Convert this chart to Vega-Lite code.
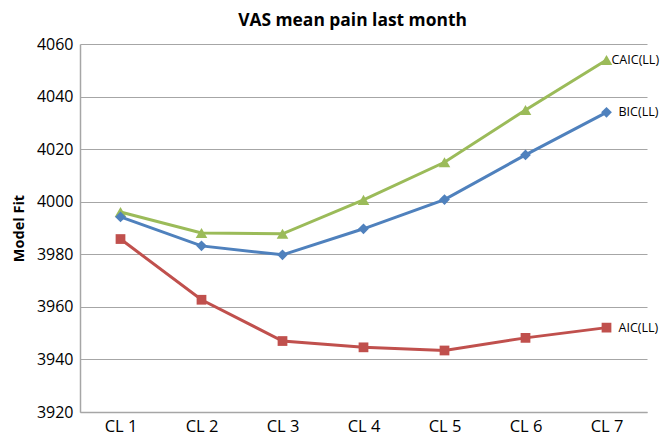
{
  "$schema": "https://vega.github.io/schema/vega-lite/v6.json",
  "width": 567,
  "height": 368,
  "autosize": {"type": "none"},
  "padding": {"left": 80, "top": 44, "right": 14, "bottom": 24},
  "background": "white",
  "title": {
    "text": "VAS mean pain last month",
    "font": "Open Sans",
    "fontSize": 17.4,
    "fontWeight": "bold",
    "color": "#000000",
    "anchor": "middle",
    "dx": -11,
    "offset": 7
  },
  "config": {
    "view": {"stroke": null},
    "font": "Open Sans"
  },
  "data": {
    "values": [
      {"cl": "CL 1", "series": "CAIC(LL)", "value": 3996.1},
      {"cl": "CL 2", "series": "CAIC(LL)", "value": 3988.1},
      {"cl": "CL 3", "series": "CAIC(LL)", "value": 3987.8},
      {"cl": "CL 4", "series": "CAIC(LL)", "value": 4000.7},
      {"cl": "CL 5", "series": "CAIC(LL)", "value": 4015.0},
      {"cl": "CL 6", "series": "CAIC(LL)", "value": 4034.9},
      {"cl": "CL 7", "series": "CAIC(LL)", "value": 4053.9},
      {"cl": "CL 1", "series": "BIC(LL)", "value": 3994.2},
      {"cl": "CL 2", "series": "BIC(LL)", "value": 3983.2},
      {"cl": "CL 3", "series": "BIC(LL)", "value": 3979.8},
      {"cl": "CL 4", "series": "BIC(LL)", "value": 3989.7},
      {"cl": "CL 5", "series": "BIC(LL)", "value": 4000.8},
      {"cl": "CL 6", "series": "BIC(LL)", "value": 4017.8},
      {"cl": "CL 7", "series": "BIC(LL)", "value": 4034.0},
      {"cl": "CL 1", "series": "AIC(LL)", "value": 3985.8},
      {"cl": "CL 2", "series": "AIC(LL)", "value": 3962.7},
      {"cl": "CL 3", "series": "AIC(LL)", "value": 3947.0},
      {"cl": "CL 4", "series": "AIC(LL)", "value": 3944.6},
      {"cl": "CL 5", "series": "AIC(LL)", "value": 3943.4},
      {"cl": "CL 6", "series": "AIC(LL)", "value": 3948.2},
      {"cl": "CL 7", "series": "AIC(LL)", "value": 3952.1}
    ]
  },
  "encoding": {
    "x": {
      "field": "cl",
      "type": "nominal",
      "scale": {"paddingInner": 0, "paddingOuter": 0},
      "axis": {
        "title": null,
        "labelAngle": 0,
        "labelFont": "Open Sans",
        "labelFontSize": 16.5,
        "labelColor": "#000000",
        "labelPadding": 6,
        "ticks": false,
        "domainColor": "#a6a6a6",
        "domainWidth": 1.5,
        "grid": false
      }
    },
    "y": {
      "field": "value",
      "type": "quantitative",
      "scale": {"domain": [3920, 4060], "nice": false, "zero": false},
      "axis": {
        "title": "Model Fit",
        "titleFont": "Open Sans",
        "titleFontSize": 14.5,
        "titleFontWeight": "bold",
        "titleColor": "#000000",
        "titlePadding": 10,
        "values": [3920, 3940, 3960, 3980, 4000, 4020, 4040, 4060],
        "format": "d",
        "labelFont": "Open Sans",
        "labelFontSize": 16,
        "labelColor": "#000000",
        "labelPadding": 7,
        "ticks": false,
        "domainColor": "#a6a6a6",
        "domainWidth": 1.5,
        "grid": true,
        "gridColor": "#a6a6a6",
        "gridWidth": 1.2
      }
    },
    "color": {
      "field": "series",
      "type": "nominal",
      "scale": {
        "domain": ["CAIC(LL)", "BIC(LL)", "AIC(LL)"],
        "range": ["#9BBB59", "#4F81BD", "#C0504D"]
      },
      "legend": null
    }
  },
  "layer": [
    {
      "mark": {"type": "line", "strokeWidth": 3}
    },
    {
      "mark": {"type": "point", "filled": true, "opacity": 1},
      "encoding": {
        "shape": {
          "field": "series",
          "type": "nominal",
          "scale": {
            "domain": ["CAIC(LL)", "BIC(LL)", "AIC(LL)"],
            "range": ["triangle-up", "diamond", "square"]
          },
          "legend": null
        },
        "size": {
          "field": "series",
          "type": "nominal",
          "scale": {
            "domain": ["CAIC(LL)", "BIC(LL)", "AIC(LL)"],
            "range": [135, 95, 105]
          },
          "legend": null
        }
      }
    },
    {
      "transform": [{"filter": "datum.cl === 'CL 7' && datum.series === 'CAIC(LL)'"}],
      "mark": {"type": "text", "align": "left", "baseline": "middle", "dx": 5, "font": "Open Sans", "fontSize": 12.5, "color": "#000000"},
      "encoding": {"text": {"field": "series"}, "color": {"value": "#000000"}}
    },
    {
      "transform": [{"filter": "datum.cl === 'CL 7' && datum.series !== 'CAIC(LL)'"}],
      "mark": {"type": "text", "align": "left", "baseline": "middle", "dx": 12, "font": "Open Sans", "fontSize": 12.5, "color": "#000000"},
      "encoding": {"text": {"field": "series"}, "color": {"value": "#000000"}}
    }
  ]
}
